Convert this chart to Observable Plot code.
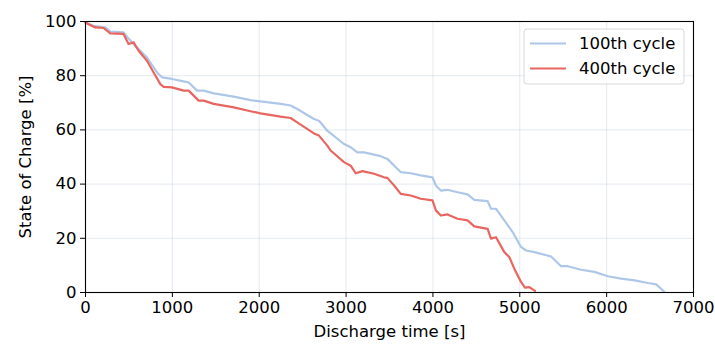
<!DOCTYPE html>
<html>
<head>
<meta charset="utf-8">
<script src="https://cdn.jsdelivr.net/npm/d3@7"></script>
<script src="https://cdn.jsdelivr.net/npm/@observablehq/plot@0.6"></script>
<style>
  body { margin: 0; background: #fff; }
  #chart { position: relative; width: 715px; height: 345px; }
</style>
</head>
<body>
<div id="chart"></div>
<script>
const series = ["100th cycle", "400th cycle"];
const colors = ["#aec7e8", "#e8665f"];

const t100 = [0, 92, 227, 286, 438, 477, 573, 708, 823, 881, 996, 1130, 1188, 1285, 1361, 1476, 1707, 1900, 2015, 2246, 2361, 2438, 2630, 2688, 2784, 2976, 3053, 3130, 3207, 3399, 3476, 3572, 3630, 3745, 3860, 3995, 4034, 4091, 4168, 4283, 4399, 4476, 4630, 4668, 4726, 4822, 4918, 5014, 5072, 5167, 5360, 5475, 5553, 5706, 5859, 6014, 6167, 6321, 6475, 6571, 6667];
const soc100 = [99.6, 98.4, 97.8, 96.3, 96.0, 94.4, 91.0, 86.7, 81.2, 79.4, 78.8, 77.9, 77.5, 74.5, 74.5, 73.5, 72.3, 71.0, 70.5, 69.6, 69.0, 67.7, 64.0, 63.4, 59.7, 54.8, 53.6, 51.7, 51.7, 50.3, 49.3, 46.2, 44.4, 44.0, 43.2, 42.5, 39.5, 37.6, 37.9, 37.0, 36.2, 34.2, 33.7, 30.9, 30.9, 26.6, 22.3, 16.8, 15.5, 14.9, 13.3, 9.7, 9.7, 8.4, 7.6, 6.0, 5.1, 4.5, 3.5, 3.0, 0.2];

const t400 = [0, 35, 112, 208, 285, 438, 496, 554, 611, 708, 784, 862, 900, 996, 1130, 1188, 1303, 1361, 1476, 1707, 1900, 2015, 2246, 2361, 2438, 2630, 2688, 2784, 2822, 2976, 3053, 3111, 3188, 3322, 3437, 3476, 3553, 3630, 3745, 3860, 3995, 4034, 4091, 4168, 4283, 4399, 4476, 4630, 4668, 4726, 4822, 4879, 4937, 5014, 5060, 5110, 5175];
const soc400 = [99.6, 99.0, 97.8, 97.6, 95.6, 95.4, 91.7, 92.3, 89.2, 85.5, 81.2, 76.9, 75.9, 75.7, 74.5, 74.5, 70.8, 70.8, 69.6, 68.3, 66.9, 66.1, 64.9, 64.4, 62.8, 58.7, 57.9, 54.2, 52.4, 48.1, 46.8, 44.0, 44.8, 43.8, 42.5, 42.3, 39.5, 36.4, 35.8, 34.6, 34.0, 30.3, 28.4, 28.8, 27.2, 26.6, 24.4, 23.5, 19.9, 20.4, 14.9, 13.1, 8.8, 3.9, 1.8, 2.0, 0.6];

const xTicks = [0, 1000, 2000, 3000, 4000, 5000, 6000, 7000];
const yTicks = [0, 20, 40, 60, 80, 100];

const data = [
  ...t100.map((t, i) => ({t, soc: soc100[i], s: series[0]})),
  ...t400.map((t, i) => ({t, soc: soc400[i], s: series[1]}))
];

const font = "DejaVu Sans, sans-serif";
const plot = Plot.plot({
  width: 715,
  height: 345,
  marginLeft: 85,
  marginRight: 22,
  marginTop: 21,
  marginBottom: 53,
  style: {fontFamily: font, fontSize: "16.5px", color: "#000", background: "#fff"},
  x: {domain: [0, 7000], ticks: xTicks, label: null},
  y: {domain: [0, 100], ticks: yTicks, label: null},
  color: {domain: series, range: colors},
  marks: [
    Plot.gridX(xTicks, {stroke: "#b0c4d4", strokeOpacity: 0.45, strokeWidth: 0.8}),
    Plot.gridY(yTicks, {stroke: "#b0c4d4", strokeOpacity: 0.45, strokeWidth: 0.8}),
    Plot.line(data, {x: "t", y: "soc", z: "s", stroke: "s", strokeWidth: 2.2, curve: "linear"}),
    Plot.frame({stroke: "#000", strokeWidth: 1.1}),
    Plot.axisX(xTicks, {tickSize: 5, tickPadding: 4, fontSize: 16.5, tickFormat: d => String(d), label: "Discharge time [s]", labelAnchor: "center", labelOffset: 44, labelArrow: "none"}),
    Plot.axisY(yTicks, {tickSize: 5, tickPadding: 4, fontSize: 16.5, label: "State of Charge [%]", labelAnchor: "center", labelOffset: 66, labelArrow: "none"})
  ]
});
document.getElementById("chart").appendChild(plot);

// Legend inside plot (top right)
const svg = d3.select(plot);
const lg = svg.append("g").attr("font-family", font).attr("font-size", "16.5px").attr("text-anchor", "start");
lg.append("rect").attr("x", 524).attr("y", 29).attr("width", 160).attr("height", 55)
  .attr("rx", 3).attr("fill", "#fff").attr("fill-opacity", 0.85)
  .attr("stroke", "#d8d8d8").attr("stroke-width", 1);
series.forEach((name, i) => {
  const cy = 43.5 + i * 25;
  lg.append("line").attr("x1", 530).attr("x2", 566).attr("y1", cy).attr("y2", cy)
    .attr("stroke", colors[i]).attr("stroke-width", 2.2);
  lg.append("text").attr("x", 579).attr("y", cy).attr("dy", "0.36em")
    .attr("text-anchor", "start").attr("fill", "#000").text(name);
});
</script>
</body>
</html>
